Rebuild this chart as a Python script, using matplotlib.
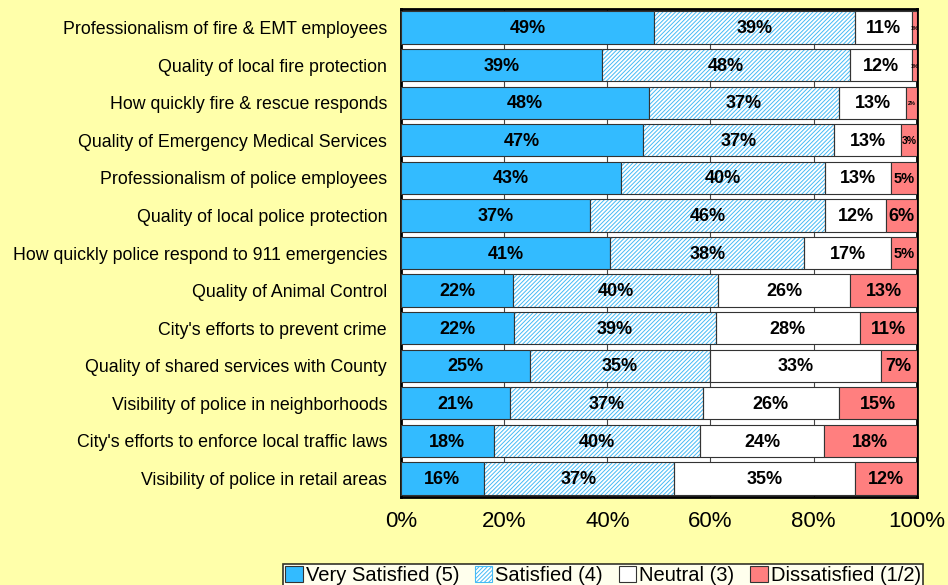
import numpy as np
import matplotlib
matplotlib.use("Agg")
import matplotlib.pyplot as plt
from matplotlib.patches import Patch

plt.rcParams['font.family'] = ['Liberation Sans', 'DejaVu Sans']
plt.rcParams['hatch.linewidth'] = 0.7

# Data (top to bottom)
categories = [
    "Professionalism of fire & EMT employees",
    "Quality of local fire protection",
    "How quickly fire & rescue responds",
    "Quality of Emergency Medical Services",
    "Professionalism of police employees",
    "Quality of local police protection",
    "How quickly police respond to 911 emergencies",
    "Quality of Animal Control",
    "City's efforts to prevent crime",
    "Quality of shared services with County",
    "Visibility of police in neighborhoods",
    "City's efforts to enforce local traffic laws",
    "Visibility of police in retail areas",
]
very_satisfied = [49, 39, 48, 47, 43, 37, 41, 22, 22, 25, 21, 18, 16]
satisfied = [39, 48, 37, 37, 40, 46, 38, 40, 39, 35, 37, 40, 37]
neutral = [11, 12, 13, 13, 13, 12, 17, 26, 28, 33, 26, 24, 35]
dissatisfied = [1, 1, 2, 3, 5, 6, 5, 13, 11, 7, 15, 18, 12]
series_names = ["Very Satisfied (5)", "Satisfied (4)", "Neutral (3)", "Dissatisfied (1/2)"]
x_ticks = [0, 20, 40, 60, 80, 100]

bg = '#FFFFAA'
blue = '#33BBFF'
hatch_blue = '#45BAF5'
red = '#FF7F7F'

vals = np.array([very_satisfied, satisfied, neutral, dissatisfied], dtype=float)
totals = vals.sum(axis=0)
pct = vals / totals * 100  # 100% stacked
y = np.arange(len(categories))

fig = plt.figure(figsize=(9.48, 5.85), dpi=100, facecolor=bg)
ax = fig.add_axes([0.423, 0.150, 0.544, 0.835])
ax.set_facecolor('white')

h = 0.86
left = np.zeros(len(categories))
for i in range(4):
    w = pct[i]
    if i == 0:
        ax.barh(y, w, left=left, height=h, color=blue, edgecolor='#333333', linewidth=0.8, zorder=3)
    elif i == 1:
        ax.barh(y, w, left=left, height=h, color='white', edgecolor=hatch_blue, hatch='////////', linewidth=0, zorder=3)
        ax.barh(y, w, left=left, height=h, fill=False, edgecolor='#333333', linewidth=0.8, zorder=4)
    elif i == 2:
        ax.barh(y, w, left=left, height=h, color='white', edgecolor='#333333', linewidth=0.8, zorder=3)
    else:
        ax.barh(y, w, left=left, height=h, color=red, edgecolor='#333333', linewidth=0.8, zorder=3)
    for j in range(len(categories)):
        v = vals[i, j]
        if v <= 2:
            fs = 4
        elif v <= 3:
            fs = 7.5
        elif v <= 5:
            fs = 10.5
        else:
            fs = 13
        ax.text(left[j] + w[j] / 2, y[j] + 0.03, f"{int(v)}%", ha='center', va='center',
                fontsize=fs, fontweight='bold', color='black', zorder=5)
    left += w

ax.set_xlim(0, 100)
ax.set_ylim(len(categories) - 0.5, -0.5)
ax.set_xticks(x_ticks)
ax.set_xticklabels([f"{t}%" for t in x_ticks], fontsize=16)
ax.set_yticks(y)
ax.set_yticklabels(categories, fontsize=12.8)
ax.tick_params(axis='x', length=0, pad=10)
ax.tick_params(axis='y', length=0, pad=10)
ax.grid(axis='x', color='#444444', linewidth=0.8, zorder=0)
for s in ax.spines.values():
    s.set_linewidth(2)
    s.set_color('black')

handles = [
    Patch(facecolor=blue, edgecolor='#333333', linewidth=0.8),
    Patch(facecolor='white', edgecolor=hatch_blue, hatch='////////', linewidth=0.8),
    Patch(facecolor='white', edgecolor='#333333', linewidth=0.8),
    Patch(facecolor=red, edgecolor='#333333', linewidth=0.8),
]
leg = fig.legend(handles, series_names, loc='lower left', bbox_to_anchor=(0.2985, -0.004),
                 ncol=4, fontsize=14.5, frameon=True, fancybox=False, edgecolor='black',
                 handlelength=0.85, handleheight=0.85, handletextpad=0.15, columnspacing=0.8,
                 borderpad=0.12, borderaxespad=0)
leg.get_frame().set_linewidth(1.2)

fig.savefig('out.png', dpi=100, facecolor=bg)
